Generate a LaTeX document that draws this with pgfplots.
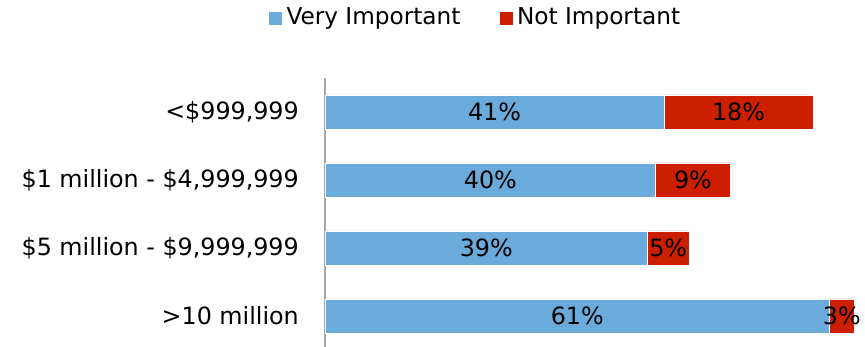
\documentclass[border=0pt]{standalone}
\usepackage{fontspec}
\setmainfont{DejaVu Sans}
\usepackage{pgfplots}
\usepackage{pgfplotstable}
\pgfplotsset{compat=1.18}
\definecolor{vimp}{HTML}{6AABDC}
\definecolor{nimp}{HTML}{CC1F00}

\pgfplotstableread{
y v n
3 41 18
2 40 9
1 39 5
0 61 3
}\data

\begin{document}
\fontsize{11.7}{14}\selectfont
\begin{tikzpicture}
\begin{axis}[
    at={(0,0)}, anchor=south west,
    scale only axis,
    width=268.75pt, height=134.5pt,
    xbar stacked,
    bar width=17pt,
    xmin=0, xmax=65,
    ymin=-0.456, ymax=3.5,
    axis lines*=left,
    x axis line style={draw=none},
    y axis line style={draw=gray!70, line width=1pt},
    xtick=\empty,
    ytick={0,1,2,3},
    yticklabels={{>10 million},{\$5 million - \$9,999,999},{\$1 million - \$4,999,999},{<\$999,999}},
    major tick length=0pt,
    yticklabel style={xshift=-9pt, font=\fontsize{11.9}{14}\selectfont},
    legend columns=2,
    legend style={at={(0.281,1.223)}, anchor=center, draw=none, fill=none,
        font=\fontsize{11.6}{14}\selectfont,
        /tikz/every even column/.append style={column sep=17pt}},
    legend image code/.code={\fill[#1] (0pt,-3.5pt) rectangle (7pt,3.5pt);},
    nodes near coords={\pgfmathprintnumber[assume math mode=true]{\pgfplotspointmeta}\%},
    every node near coord/.append style={anchor=center, text=black,
        font=\fontsize{11.9}{14}\selectfont},
    point meta=explicit,
]
\addplot[fill=vimp, draw=white, line width=0.3pt]
    table[x=v, y=y, meta=v] \data;
\addlegendentry{Very Important}
\addplot[fill=nimp, draw=white, line width=0.3pt]
    table[x=n, y=y, meta=n] \data;
\addlegendentry{Not Important}
\end{axis}
\pgfresetboundingbox
\useasboundingbox (-162.5pt,0) rectangle (270pt,173.5pt);
\end{tikzpicture}
\end{document}
